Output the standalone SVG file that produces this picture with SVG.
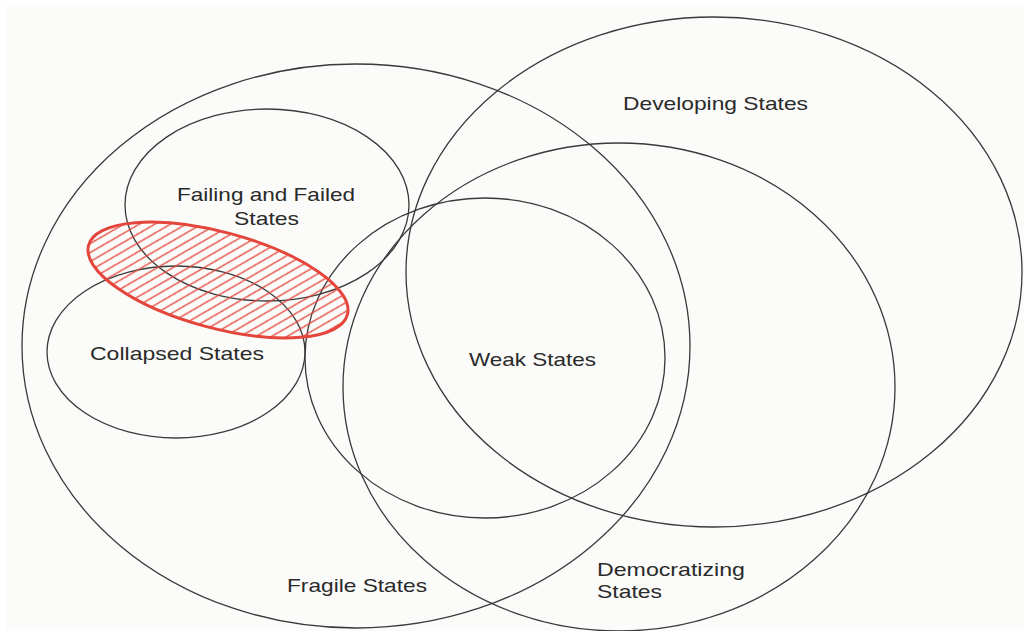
<svg xmlns="http://www.w3.org/2000/svg" width="1024" height="631" viewBox="0 0 1024 631">
<style>
.set{fill:none;stroke:#3a3a3a;stroke-width:1.3}
.lbl{font-family:"Liberation Sans",Arial,Helvetica,sans-serif;font-size:19px;fill:#2a2a2a}
.hl{fill:url(#hatch);stroke:#e5463c;stroke-width:3}
</style>
<defs>
<pattern id="hatch" patternUnits="userSpaceOnUse" width="11" height="11">
<path d="M-1,1 l2,-2 M0,11 l11,-11 M10,12 l2,-2" stroke="#e5463c" stroke-width="1.3"/>
</pattern>
</defs>
<rect x="0" y="0" width="1024" height="631" fill="#ffffff"/>
<rect x="6" y="5" width="1018" height="626" fill="#fbfbf9"/>
<g id="fragile">
<ellipse class="set" cx="356" cy="346" rx="334" ry="282"/>
<text class="lbl" x="287" y="592" textLength="140" lengthAdjust="spacingAndGlyphs">Fragile States</text>
</g>
<g id="developing">
<ellipse class="set" cx="714" cy="272" rx="308" ry="255"/>
<text class="lbl" x="623" y="110" textLength="185" lengthAdjust="spacingAndGlyphs">Developing States</text>
</g>
<g id="democratizing">
<ellipse class="set" cx="619" cy="387" rx="276" ry="244"/>
<text class="lbl" x="597" y="576" textLength="148" lengthAdjust="spacingAndGlyphs">Democratizing</text>
<text class="lbl" x="597" y="598" textLength="65" lengthAdjust="spacingAndGlyphs">States</text>
</g>
<g id="weak">
<ellipse class="set" cx="485" cy="358" rx="180" ry="160"/>
<text class="lbl" x="469" y="366" textLength="127" lengthAdjust="spacingAndGlyphs">Weak States</text>
</g>
<g id="failing">
<ellipse class="set" cx="267" cy="205" rx="142" ry="96"/>
<text class="lbl" x="177" y="201" textLength="178" lengthAdjust="spacingAndGlyphs">Failing and Failed</text>
<text class="lbl" x="234" y="225" textLength="65" lengthAdjust="spacingAndGlyphs">States</text>
</g>
<g id="collapsed">
<ellipse class="set" cx="176" cy="352" rx="129" ry="86"/>
<text class="lbl" x="90" y="360" textLength="174" lengthAdjust="spacingAndGlyphs">Collapsed States</text>
</g>
<g id="highlight">
<ellipse class="hl" cx="218" cy="280" rx="134" ry="48" transform="rotate(15 218 280)"/>
</g>
</svg>
